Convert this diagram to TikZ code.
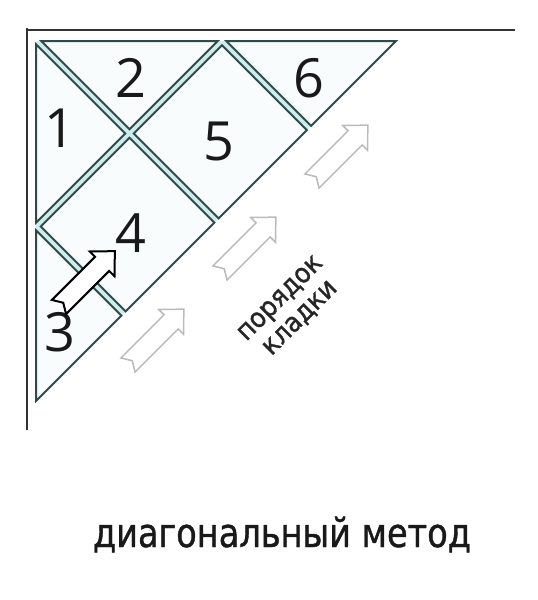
\documentclass[tikz,border=0pt]{standalone}
\usepackage{fontspec}
\setmainfont{DejaVu Sans}
\newfontfamily\digitfont{Open Sans}
\newfontfamily\capfont[FakeStretch=0.84,FakeBold=1]{DejaVu Sans}
\newfontfamily\ordfont[FakeStretch=0.92,FakeBold=1.2]{DejaVu Sans}
\definecolor{gapc}{HTML}{CFECEC}
\definecolor{tilefill}{HTML}{F8FCFC}
\definecolor{tilec}{HTML}{2F4A4A}
\definecolor{framec}{HTML}{333333}
\definecolor{greyarrow}{HTML}{BBBBBB}
\tikzset{
  tile/.style={draw=tilec, fill=tilefill, line width=2pt, line join=miter},
  frameline/.style={draw=framec, line width=2.6pt},
  digit/.style={inner sep=0pt, font=\digitfont\fontsize{54}{54}\selectfont, text=black!90},
  ordtext/.style={inner sep=0pt, rotate=45, align=center, font=\ordfont\fontsize{27}{28}\selectfont, text=black!85},
  captext/.style={inner sep=0pt, anchor=base, font=\capfont\fontsize{40}{40}\selectfont, text=black!90},
  pics/layarrow/.style={code={
    \path[pic actions] (0,10) -- (61,10) -- (61,17.5) -- (79,0) -- (61,-17.5) -- (61,-10) -- (0,-10) -- (6,0) -- cycle;
  }},
  greyarr/.style={draw=greyarrow, fill=white, line width=1.5pt, line join=miter},
  blackarr/.style={draw=black, fill=white, line width=2pt, line join=miter}
}
\begin{document}
\begin{tikzpicture}[x=1pt,y=-1pt]
\useasboundingbox (0,0) rectangle (538,600);
\fill[white] (0,0) rectangle (538,600);
% grout background
\fill[gapc] (36,41) -- (396,41) -- (36,401) -- cycle;
% tiles
\draw[tile] (36,44.2) -- (125.3,133.5) -- (36,222.8) -- cycle;
\draw[tile] (41.2,41) -- (129.5,129.3) -- (217.8,41) -- cycle;
\draw[tile] (36,230.2) -- (121.4,315.6) -- (36,401) -- cycle;
\draw[tile] (129.5,137.7) -- (40.7,226.5) -- (125.6,311.4) -- (214.4,222.6) -- cycle;
\draw[tile] (133.7,133.5) -- (222,45.2) -- (306.9,130.1) -- (218.6,218.4) -- cycle;
\draw[tile] (226.2,41) -- (396,41) -- (311.1,125.9) -- cycle;
% corner walls
\coordinate (wtop) at (27,28);
\coordinate (wbot) at (27,430);
\coordinate (wl) at (25.7,30);
\coordinate (wr) at (515,30);
\draw[frameline] (wtop) -- (wbot);
\draw[frameline] (wl) -- (wr);
% tile numbers
\node[digit] (n1) at (60,128) {1};
\node[digit] (n2) at (131,78) {2};
\node[digit] (n3) at (60,332) {3};
\node[digit] (n4) at (131,233) {4};
\node[digit] (n5) at (219,141) {5};
\node[digit] (n6) at (309,78) {6};
% arrows
\pic[greyarr, rotate=45] at (128,365) {layarrow};
\pic[greyarr, rotate=45] at (220,273) {layarrow};
\pic[greyarr, rotate=45] at (312,181) {layarrow};
\pic[blackarr, rotate=45] at (59,307) {layarrow};
% labels
\node[ordtext] (ord) at (291,309) {порядок\\кладки};
\node[captext] (cap) at (282,547) {диагональный метод};
\end{tikzpicture}
\end{document}
